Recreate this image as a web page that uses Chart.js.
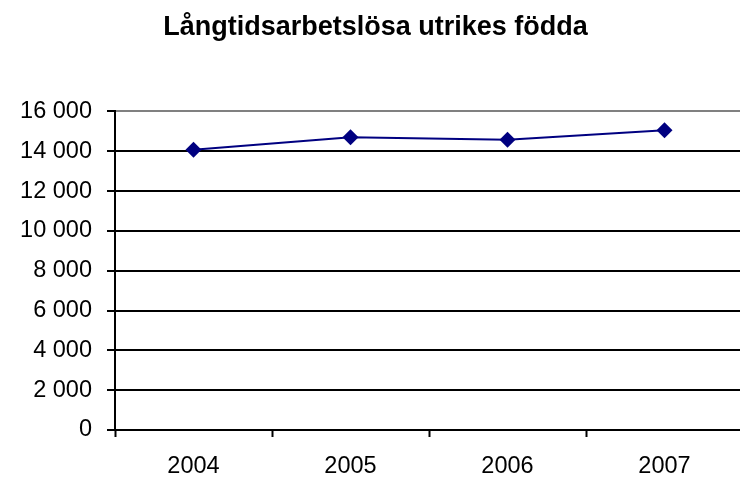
<!DOCTYPE html>
<html>
<head>
<meta charset="utf-8">
<title>Långtidsarbetslösa utrikes födda</title>
<script src="https://cdn.jsdelivr.net/npm/chart.js@4/dist/chart.umd.min.js"></script>
<style>
  html, body { margin: 0; padding: 0; background: #fff; overflow: hidden; }
  #chart { display: block; }
</style>
</head>
<body>
<!-- a little wider than the window: the plot runs off the right edge like the original -->
<canvas id="chart" width="751" height="477"></canvas>
<script>
// Data
const years = ["2004", "2005", "2006", "2007"];
const values = [14080, 14700, 14580, 15050];
const yTicks = [0, 2000, 4000, 6000, 8000, 10000, 12000, 14000, 16000];
const yTickLabels = ["0", "2 000", "4 000", "6 000", "8 000", "10 000", "12 000", "14 000", "16 000"];

const font = "'Liberation Sans', Arial, sans-serif";

new Chart(document.getElementById("chart"), {
  type: "line",
  data: {
    labels: years,
    datasets: [
      {
        data: values,
        borderColor: "#000080",
        backgroundColor: "#000080",
        borderWidth: 2,
        tension: 0,
        pointStyle: "rectRot",
        pointRadius: 8,
        pointHoverRadius: 8,
        pointBorderWidth: 0,
      },
    ],
  },
  options: {
    responsive: false,
    animation: false,
    layout: { padding: 0 },
    plugins: {
      legend: { display: false },
      tooltip: { enabled: false },
      title: {
        display: true,
        text: "Långtidsarbetslösa utrikes födda",
        color: "#000",
        font: { family: font, size: 27, weight: "bold" },
        padding: { top: 11, bottom: 68 },
      },
    },
    scales: {
      x: {
        offset: true,
        grid: {
          offset: true,
          drawOnChartArea: false,
          drawTicks: true,
          tickLength: 7,
          tickColor: "#000",
          tickWidth: 2,
        },
        border: { display: true, color: "#000", width: 2 },
        ticks: {
          color: "#000",
          padding: 15,
          maxRotation: 0,
          font: { family: font, size: 23.5 },
        },
        afterFit: (scale) => { scale.height = 47; },
      },
      y: {
        min: 0,
        max: 16000,
        afterBuildTicks: (scale) => { scale.ticks = yTicks.map((v) => ({ value: v })); },
        grid: {
          color: (ctx) => (ctx.tick && ctx.tick.value === 16000 ? "#808080" : "#000"),
          lineWidth: 2,
          drawTicks: true,
          tickLength: 8,
          tickColor: "#000",
          tickWidth: 2,
        },
        border: { display: true, color: "#000", width: 2 },
        ticks: {
          color: "#000",
          padding: 15,
          font: { family: font, size: 23.5 },
          callback: (v, i) => yTickLabels[i],
        },
        afterFit: (scale) => { scale.width = 115; },
      },
    },
  },
});
</script>
</body>
</html>
